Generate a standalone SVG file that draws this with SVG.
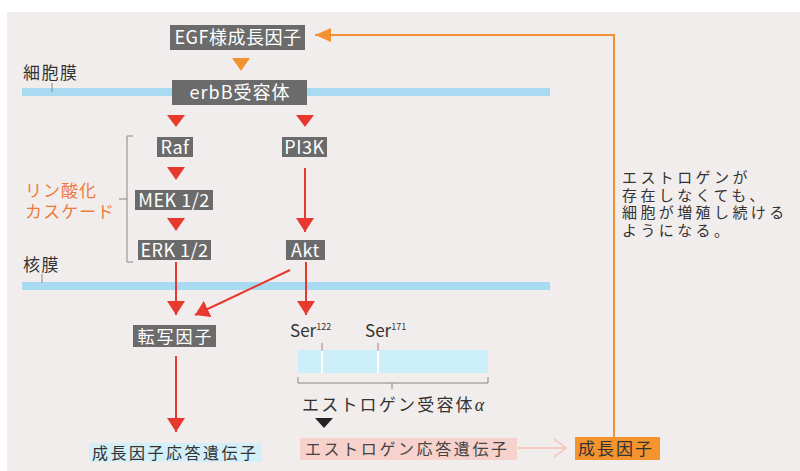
<svg xmlns="http://www.w3.org/2000/svg" width="800" height="471" viewBox="0 0 800 471">
<defs>
<style>
text{font-family:"Noto Sans CJK JP","Noto Sans",sans-serif;}
.box{fill:#6c6b6b;}
.bt{fill:#ffffff;font-size:18px;text-anchor:middle;letter-spacing:0.5px;}
.lbl{fill:#333;font-size:16px;}
text.or{font-family:"Liberation Sans","Noto Sans CJK JP",sans-serif;fill:#ee7b3a;font-size:17px;letter-spacing:1px;}
.red{stroke:#e8392f;stroke-width:2;fill:none;}
.tri{fill:#e8392f;}
.gl{stroke:#8a8585;stroke-width:1;fill:none;}
.mem{fill:#a8dbf2;}
text.note{font-family:"Liberation Sans","Noto Sans CJK JP",sans-serif;fill:#333;font-size:15px;letter-spacing:3.4px;}
</style>
<marker id="ar" viewBox="0 0 14 18" refX="14" refY="9" markerWidth="14" markerHeight="18" markerUnits="userSpaceOnUse" orient="auto">
<path d="M0,0 L14,9 L0,18 z" fill="#e8392f"/>
</marker>
<marker id="ao" viewBox="0 0 16 14" refX="16" refY="7" markerWidth="16" markerHeight="14" markerUnits="userSpaceOnUse" orient="auto">
<path d="M0,0 L16,7 L0,14 z" fill="#f39233"/>
</marker>
<marker id="ap" viewBox="0 0 14 20" refX="13" refY="10" markerWidth="14" markerHeight="20" markerUnits="userSpaceOnUse" orient="auto">
<path d="M1,1 L13,10 L1,19" fill="none" stroke="#f6cac3" stroke-width="2"/>
</marker>
</defs>
<rect x="0" y="0" width="800" height="471" fill="#ffffff"/>
<rect x="7" y="12" width="793" height="459" fill="#f2eded"/>

<g id="membranes">
<rect class="mem" x="22" y="88" width="528" height="8"/>
<rect class="mem" x="22" y="282" width="528" height="8"/>
<text class="lbl" x="23" y="79" style="font-size:17px;letter-spacing:1.5px">細胞膜</text>
<line class="gl" x1="52" y1="83" x2="52" y2="92"/>
<text class="lbl" x="23" y="271" style="font-size:17px;letter-spacing:1.5px">核膜</text>
<line class="gl" x1="42" y1="274" x2="42" y2="283"/>
</g>

<g id="connectors">
<polygon points="232,58 250,58 241,71" fill="#f39233"/>
<polygon class="tri" points="167,115 185,115 176,127"/>
<polygon class="tri" points="296,115 314,115 305,127"/>
<polygon class="tri" points="167,167 185,167 176,180"/>
<polygon class="tri" points="167,218 185,218 176,231"/>
<line class="red" x1="305" y1="168" x2="305" y2="232" marker-end="url(#ar)"/>
<line class="red" x1="176" y1="262" x2="176" y2="315" marker-end="url(#ar)"/>
<line class="red" x1="290" y1="270" x2="195" y2="315" marker-end="url(#ar)"/>
<line class="red" x1="306" y1="262" x2="306" y2="315" marker-end="url(#ar)"/>
<line class="red" x1="176" y1="356" x2="176" y2="432" marker-end="url(#ar)"/>
<polygon points="315,418 333,418 324,428" fill="#222"/>
<line x1="518" y1="448" x2="566" y2="448" stroke="#f6cac3" stroke-width="2" marker-end="url(#ap)"/>
<polyline points="614,437 614,35 315,35" fill="none" stroke="#f39233" stroke-width="2" marker-end="url(#ao)"/>
<path class="gl" d="M133,136 H127 V262 H133 M127,199 H119"/>
</g>

<g id="egf"><rect class="box" x="170" y="25" width="135" height="25"/><text class="bt" x="238" y="44">EGF様成長因子</text></g>
<g id="erbb"><rect class="box" x="172" y="80" width="135" height="25"/><text class="bt" x="240" y="99" style="letter-spacing:1px">erbB受容体</text></g>
<g id="raf"><rect class="box" x="157" y="137" width="36" height="20"/><text class="bt" x="175" y="153.5">Raf</text></g>
<g id="pi3k"><rect class="box" x="282" y="137" width="45" height="20"/><text class="bt" x="304.5" y="153.5">PI3K</text></g>
<g id="mek"><rect class="box" x="135" y="190" width="78" height="20"/><text class="bt" x="174" y="206.5">MEK 1/2</text></g>
<g id="erk"><rect class="box" x="138" y="240" width="73" height="20"/><text class="bt" x="174.5" y="256.5">ERK 1/2</text></g>
<g id="akt"><rect class="box" x="286" y="240" width="39" height="20"/><text class="bt" x="305.5" y="256.5">Akt</text></g>
<g id="tf"><rect class="box" x="133" y="325" width="83" height="22"/><text class="bt" x="175.5" y="342.5" style="font-size:17px;letter-spacing:2px">転写因子</text></g>

<g id="cascade">
<text class="or" x="25" y="197">リン酸化</text>
<text class="or" x="25" y="218">カスケード</text>
</g>

<g id="gfgene"><rect x="89" y="443" width="173" height="19" fill="#d3eff8"/><text class="lbl" x="92" y="459" style="letter-spacing:2.5px">成長因子応答遺伝子</text></g>

<g id="er">
<rect x="298" y="350" width="190" height="23" fill="#cbeef8"/>
<rect x="321" y="350" width="2" height="23" fill="#ffffff"/>
<rect x="377" y="350" width="2" height="23" fill="#ffffff"/>
<line x1="322" y1="343" x2="322" y2="351" stroke="#b07b7b" stroke-width="1"/>
<line x1="378" y1="343" x2="378" y2="351" stroke="#b07b7b" stroke-width="1"/>
<path class="gl" d="M298,377 V383 H488 V377 M392,383 V389"/>
<text class="lbl" x="290" y="337" style="font-size:17px">Ser<tspan font-size="9" dy="-7">122</tspan></text>
<text class="lbl" x="365" y="337" style="font-size:17px">Ser<tspan font-size="9" dy="-7">171</tspan></text>
<text class="lbl" x="302" y="411" style="font-size:17px;letter-spacing:2.2px">エストロゲン受容体<tspan font-style="italic" font-family="Liberation Serif, serif" font-size="18">α</tspan></text>
</g>

<g id="ergene"><rect x="300" y="438" width="217" height="22" fill="#f7d2cc"/><text class="lbl" x="305" y="455" style="letter-spacing:2.6px;fill:#444">エストロゲン応答遺伝子</text></g>

<g id="gf"><rect x="575" y="437" width="85" height="23" fill="#f5932f"/><text class="lbl" x="578" y="455" style="font-size:17px;letter-spacing:2px">成長因子</text></g>

<g id="note">
<text class="note" x="622" y="183">エストロゲンが</text>
<text class="note" x="622" y="200.5">存在しなくても、</text>
<text class="note" x="622" y="218">細胞が増殖し続ける</text>
<text class="note" x="622" y="235.5">ようになる。</text>
</g>
</svg>
